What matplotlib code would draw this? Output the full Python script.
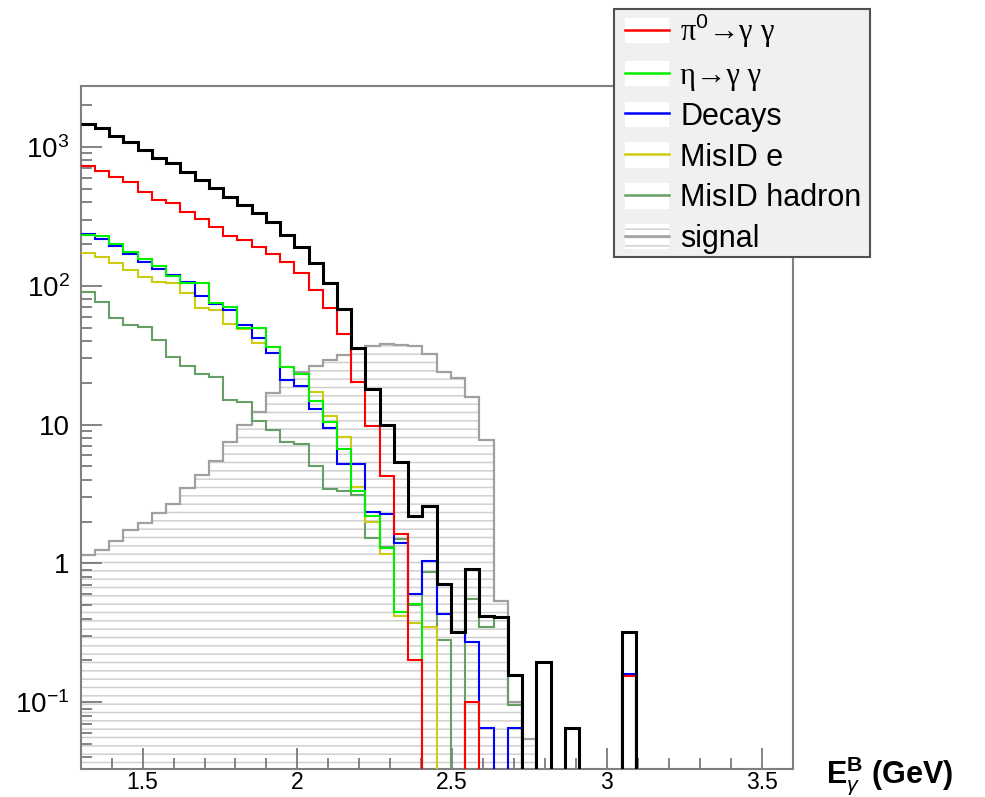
import numpy as np
import matplotlib
matplotlib.use("Agg")
import matplotlib.pyplot as plt
from matplotlib.lines import Line2D
from matplotlib.patches import Patch, Rectangle
from matplotlib.legend_handler import HandlerTuple
from matplotlib.ticker import FixedLocator, FixedFormatter, LogLocator, MultipleLocator, NullFormatter

# 50 bins between 1.3 and 3.6 GeV
x_min, x_max = 1.3, 3.6
n_bins = 50
y_min, y_max = 0.033, 2750

total = [1466, 1365, 1200, 1092, 951, 828, 762, 664, 578, 504,
         438, 382, 333, 289, 232, 191, 147, 105, 67.6, 35.4,
         17.9, 9.9, 5.4, 2.2, 2.6, 0.71, 0.32, 0.91, 0.42, 0.41,
         0.158, 0, 0.195, 0, 0.065, 0, 0, 0, 0.32, 0,
         0, 0, 0, 0, 0, 0, 0, 0, 0, 0]
pi0 = [729, 674, 604, 562, 476, 415, 393, 342, 301, 266,
       228, 213, 191, 169, 149, 123, 94, 69, 45, 20.3,
       9.8, 4.26, 1.64, 0.2, 0, 0, 0, 0.1, 0, 0,
       0, 0, 0, 0, 0, 0, 0, 0, 0.155, 0,
       0, 0, 0, 0, 0, 0, 0, 0, 0, 0]
eta = [232, 228, 200, 176, 155, 139, 117, 105, 105, 75.5,
       70.6, 50, 50, 36, 26, 23, 14.8, 10.5, 6.7, 3.3,
       2.2, 1.3, 0.45, 0.51, 0, 0, 0, 0, 0, 0,
       0, 0, 0, 0, 0, 0, 0, 0, 0, 0,
       0, 0, 0, 0, 0, 0, 0, 0, 0, 0]
decays = [236, 219, 193, 169, 149, 133, 119, 107, 84, 74,
          67, 52, 42, 33, 21, 19, 13, 9.4, 5.2, 5.2,
          2.35, 2.26, 1.4, 0.6, 1.04, 0.43, 0.32, 0.27, 0.065, 0,
          0.065, 0, 0, 0, 0, 0, 0, 0, 0.16, 0,
          0, 0, 0, 0, 0, 0, 0, 0, 0, 0]
misid_e = [173, 162, 147, 130, 116, 107, 104, 88, 69, 67,
           53, 49, 39, 36, 26, 23, 17.2, 11.5, 8.1, 3.56,
           2.0, 1.16, 0.42, 0.37, 0.35, 0, 0, 0, 0, 0,
           0, 0, 0, 0, 0, 0, 0, 0, 0, 0,
           0, 0, 0, 0, 0, 0, 0, 0, 0, 0]
misid_had = [90.5, 77, 59, 52, 50.6, 40.6, 30.8, 26.4, 23.3, 22,
             15, 14.6, 10.6, 9.2, 7.5, 7.3, 5.0, 3.46, 3.3, 3.1,
             1.53, 1.31, 1.5, 0.5, 0.87, 0.28, 0, 0.55, 0.35, 0.41,
             0.096, 0, 0, 0, 0, 0, 0, 0, 0, 0,
             0, 0, 0, 0, 0, 0, 0, 0, 0, 0]
signal = [1.15, 1.25, 1.45, 1.75, 1.95, 2.3, 2.7, 3.5, 4.3, 5.5,
          7.5, 9.9, 12.4, 17, 21, 24, 26.4, 29, 31.6, 35,
          36.7, 38, 37.4, 36.7, 32.2, 24, 21.5, 15.8, 7.7, 0.54,
          0.1, 0.054, 0, 0, 0, 0, 0, 0, 0, 0,
          0, 0, 0, 0, 0, 0, 0, 0, 0, 0]

labels = [r"π$^{0}$→γ γ", r"η→γ γ", "Decays", "MisID e", "MisID hadron", "signal"]

plt.rcParams['font.family'] = ['Liberation Sans', 'DejaVu Sans']
plt.rcParams['mathtext.fontset'] = 'custom'
plt.rcParams['mathtext.rm'] = 'Liberation Sans'
plt.rcParams['mathtext.it'] = 'Liberation Sans:italic'
plt.rcParams['mathtext.bf'] = 'Liberation Sans:bold'
plt.rcParams['hatch.linewidth'] = 1.1

edges = np.linspace(x_min, x_max, n_bins + 1)
floor = 1e-5


def clip0(vals):
    v = np.asarray(vals, dtype=float)
    return np.where(v > 0, v, floor)


fig = plt.figure(figsize=(9.85, 7.97), dpi=100)
ax = fig.add_axes([80.7 / 985, 28 / 797, 712 / 985, 683 / 797])
ax.set_yscale('log')

hatch_col = '#d0d0d0'
# signal: hatched fill + gray outline
ax.stairs(clip0(signal), edges, fill=True, baseline=floor, hatch='--',
          facecolor='none', edgecolor=hatch_col, linewidth=0, zorder=1)
ax.stairs(clip0(signal), edges, baseline=None, color='#a0a0a0', lw=1.6, zorder=2)

series = [(misid_had, '#66a066', 1.5), (misid_e, '#cccc11', 1.5), (decays, '#0000ff', 1.5),
          (eta, '#00ee00', 1.5), (pi0, '#ff0000', 1.5), (total, 'black', 2.2)]
for vals, col, lw in series:
    ax.stairs(clip0(vals), edges, baseline=None, color=col, lw=lw, zorder=3)

ax.set_xlim(x_min, x_max)
ax.set_ylim(y_min, y_max)

ax.xaxis.set_major_locator(FixedLocator([1.5, 2, 2.5, 3, 3.5]))
ax.xaxis.set_major_formatter(FixedFormatter(["1.5", "2", "2.5", "3", "3.5"]))
ax.xaxis.set_minor_locator(MultipleLocator(0.1))
ax.yaxis.set_major_locator(FixedLocator([0.1, 1, 10, 100, 1000]))
ax.yaxis.set_major_formatter(FixedFormatter([r"$10^{-1}$", "1", "10", r"$10^{2}$", r"$10^{3}$"]))
ax.yaxis.set_minor_locator(LogLocator(base=10, subs=np.arange(2, 10)))
ax.yaxis.set_minor_formatter(NullFormatter())

ax.tick_params(which='both', direction='in', color='#707070', width=1.2)
ax.tick_params(which='major', length=15)
ax.tick_params(which='minor', length=8)
ax.tick_params(axis='x', pad=1.5, labelsize=16.5)
ax.tick_params(axis='y', pad=8, labelsize=20)
for s in ax.spines.values():
    s.set_color('#808080')
    s.set_linewidth(1.5)

fig.text(826 / 985, 1 - 776 / 797, r"E$_{\gamma}^{\mathbf{B}}$ (GeV)", ha='left', va='center',
         fontsize=22, fontweight='bold')

# legend box (drawn separately so the entries sit like ROOT's TLegend)
fig.patches.append(Rectangle((614 / 985, 1 - 257 / 797), 256 / 985, 248 / 797,
                             transform=fig.transFigure, facecolor='#f0f0f0',
                             edgecolor='#505050', lw=1.5, zorder=4))
colors = ['#ff0000', '#00ee00', '#0000ff', '#cccc11', '#66a066']
handles = [(Patch(facecolor='white', edgecolor='none'), Line2D([], [], color=c, lw=1.8)) for c in colors]
handles.append((Patch(facecolor='white', edgecolor=hatch_col, hatch='--', lw=0),
                Line2D([], [], color='#a0a0a0', lw=1.8)))
leg = fig.legend(handles, labels, handler_map={tuple: HandlerTuple(ndivide=1, pad=0)},
                 loc='upper left', bbox_to_anchor=(622 / 985, 1 - 9 / 797), borderaxespad=0,
                 fontsize=22, handlelength=1.45, handleheight=0.9, labelspacing=0.345,
                 handletextpad=0.35, borderpad=0.1, frameon=False)
leg.set_zorder(5)
for t in leg.get_texts()[:2]:
    t.set_fontfamily(['Liberation Serif', 'DejaVu Serif'])

fig.savefig("out.png", dpi=100)
